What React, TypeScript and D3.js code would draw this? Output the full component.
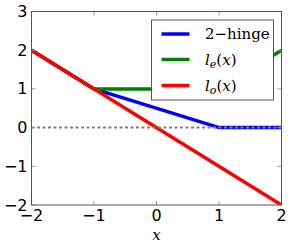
import * as d3 from 'd3';
import React from 'react';

// series
const hingeX = [-2, -1, 1, 2];
const hingeY = [2, 1, 0, 0];
const evenX = [-2, -1, 1, 2];
const evenY = [2, 1, 1, 2];
const oddX = [-2, 2];
const oddY = [2, -2];

const xTicks = [-2, -1, 0, 1, 2];
const yTicks = [-2, -1, 0, 1, 2, 3];

const W = 291;
const H = 247;
const left = 31.5;
const right = 281.5;
const top = 11.5;
const bottom = 205;

const x = d3.scaleLinear().domain([-2, 2]).range([left, right]);
const y = d3.scaleLinear().domain([-2, 3]).range([bottom, top]);

const line = d3
  .line<[number, number]>()
  .x(d => x(d[0]))
  .y(d => y(d[1]));

const pts = (xs: number[], ys: number[]) =>
  xs.map((v, i) => [v, ys[i]] as [number, number]);

const series = [
  {name: 'hinge', color: '#0000ff', data: pts(hingeX, hingeY)},
  {name: 'even', color: '#008000', data: pts(evenX, evenY)},
  {name: 'odd', color: '#ff0000', data: pts(oddX, oddY)},
];

const tickFont = {fontFamily: 'DejaVu Sans', fontSize: 16, fill: '#000'};
const serif = {fontFamily: 'DejaVu Serif', fontSize: 15, fill: '#000'};

function LegendLabel({i}: {i: number}) {
  if (i === 0) return <tspan>2−hinge</tspan>;
  const sub = i === 1 ? 'e' : 'o';
  return (
    <>
      <tspan fontStyle="italic">l</tspan>
      <tspan fontStyle="italic" fontSize={11} dy={3}>{sub}</tspan>
      <tspan dy={-3}>(</tspan>
      <tspan fontStyle="italic">x</tspan>
      <tspan>)</tspan>
    </>
  );
}

export default function App() {
  const legendRows = [34, 59.5, 85.5];
  return (
    <svg width={W} height={H} style={{position: 'absolute', left: 0, top: 0}}>
      <rect width={W} height={H} fill="#fff" />
      <defs>
        <clipPath id="plot">
          <rect x={left} y={top} width={right - left} height={bottom - top} />
        </clipPath>
      </defs>
      <g clipPath="url(#plot)">
        {series.map(s => (
          <path key={s.name} d={line(s.data) || ''} fill="none" stroke={s.color} strokeWidth={3.5} />
        ))}
        <line x1={left} x2={right} y1={y(0)} y2={y(0)} stroke="#808080" strokeWidth={2} strokeDasharray="3,2.5" />
      </g>
      {/* ticks */}
      {xTicks.map(t => (
        <g key={'x' + t}>
          <line x1={x(t)} x2={x(t)} y1={bottom} y2={bottom - 4} stroke="#999" />
          <line x1={x(t)} x2={x(t)} y1={top} y2={top + 4} stroke="#999" />
          <text x={x(t)} y={221} textAnchor="middle" {...tickFont}>
            {t < 0 ? '−' + Math.abs(t) : t}
          </text>
        </g>
      ))}
      {yTicks.map(t => (
        <g key={'y' + t}>
          <line x1={left} x2={left + 4} y1={y(t)} y2={y(t)} stroke="#999" />
          <line x1={right} x2={right - 4} y1={y(t)} y2={y(t)} stroke="#999" />
          <text x={27.5} y={y(t) + 5.5} textAnchor="end" {...tickFont}>
            {t < 0 ? '−' + Math.abs(t) : t}
          </text>
        </g>
      ))}
      <rect x={left} y={top} width={right - left} height={bottom - top} fill="none" stroke="#555" strokeWidth={1} />
      <text x={x(0)} y={240} textAnchor="middle" {...serif} fontStyle="italic">x</text>
      {/* legend */}
      <rect x={151.5} y={20} width={122} height={80} fill="#fff" stroke="#555" strokeWidth={1} />
      {series.map((s, i) => (
        <g key={'leg' + s.name}>
          <line x1={161.5} x2={189.5} y1={legendRows[i]} y2={legendRows[i]} stroke={s.color} strokeWidth={3.5} />
          <text x={205} y={legendRows[i] + 5} {...serif}>
            <LegendLabel i={i} />
          </text>
        </g>
      ))}
    </svg>
  );
}
